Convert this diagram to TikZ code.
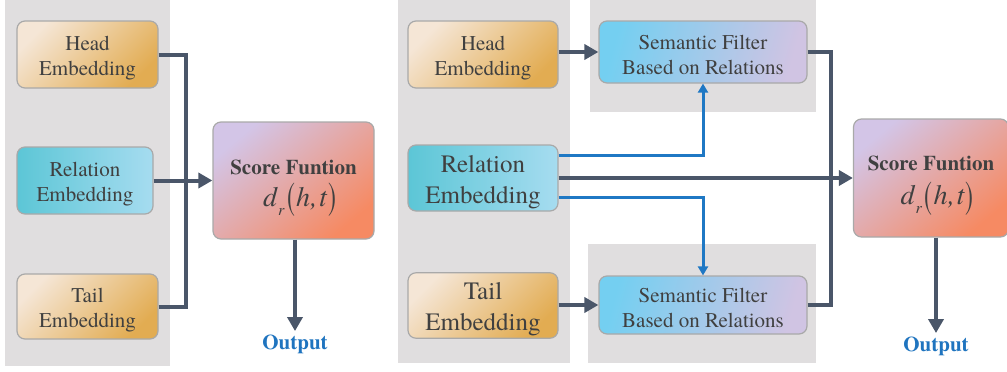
\documentclass[tikz,border=0pt]{standalone}
\usepackage{fontspec}
\usepackage{graphicx}
\setmainfont{texgyretermes}[Extension=.otf, UprightFont=*-regular, BoldFont=*-bold, ItalicFont=*-italic, BoldItalicFont=*-bolditalic]
\newfontfamily\timesfont{texgyretermes}[Extension=.otf, UprightFont=*-regular, BoldFont=*-bold, ItalicFont=*-italic, BoldItalicFont=*-bolditalic]
\usetikzlibrary{arrows.meta}

\definecolor{panel}{HTML}{E0DEDF}
\definecolor{edge}{HTML}{A9A9A9}
\definecolor{ink}{HTML}{404040}
\definecolor{dark}{HTML}{4A5669}
\definecolor{blueline}{HTML}{1F78C4}
\definecolor{creamA}{HTML}{F5E6D6}
\definecolor{creamB}{HTML}{E2AC52}
\definecolor{relA}{HTML}{5CC6D6}
\definecolor{relB}{HTML}{A6DCF0}
\definecolor{semA}{HTML}{74CFF1}
\definecolor{semB}{HTML}{D0C4E3}
\definecolor{scoA}{HTML}{D3C5E7}
\definecolor{scoB}{HTML}{F68A63}
\definecolor{outc}{HTML}{1F74BF}

% invisible strut that lowers a label inside its box
\newcommand{\lift}[1]{\rule{0pt}{#1}}
% d_r(h,t) set in the text font
\newcommand{\scorefn}{{\timesfont\fontsize{28}{30}\selectfont\itshape d\kern1pt\raisebox{-0.32em}{\fontsize{16}{16}\selectfont r}\kern3pt\raisebox{-0.14em}{\scalebox{0.85}[1.4]{\upshape(}}\kern1pt h\kern0.5pt,\kern1.5pt t\kern1pt\raisebox{-0.14em}{\scalebox{0.85}[1.4]{\upshape)}}}}

\tikzset{
  box/.style={draw=edge, line width=1.2pt, rounded corners=8pt, inner sep=2pt,
    align=center, text=ink, font=\timesfont\fontsize{21}{25}\selectfont},
  bigbox/.style={box, font=\timesfont\fontsize{25}{31}\selectfont},
  entbox/.style={shade, left color=creamA, right color=creamB, shading angle=45},
  relbox/.style={shade, left color=relA, right color=relB},
  sembox/.style={box, shade, left color=semA, right color=semB, shading angle=75},
  scorebox/.style={box, shade, left color=scoA, right color=scoB, shading angle=40},
  flow/.style={draw=dark, line width=4pt, -{Triangle[length=14pt,width=15pt]}},
  flowline/.style={draw=dark, line width=4pt},
  relflow/.style={draw=blueline, line width=3pt, -{Triangle[length=9pt,width=10pt]}},
  outlabel/.style={text=outc, font=\timesfont\fontsize{21}{25}\selectfont\bfseries},
}

\begin{document}
\begin{tikzpicture}[x=1pt, y=-1pt]
\useasboundingbox (0,0) rectangle (1007,372);

% grey panels
\fill[panel] (5,0) rectangle (170,366);
\fill[panel] (398,0) rectangle (570,363);
\fill[panel] (590,0) rectangle (816,112);
\fill[panel] (588,244) rectangle (816,363);

% first model
\node[box, entbox, minimum width=141pt, minimum height=67pt] (h1) at (87.5,54.5) {\lift{21pt}Head\\Embedding};
\node[box, relbox, minimum width=136pt, minimum height=67pt] (r1) at (85,180.5) {\lift{21pt}Relation\\Embedding};
\node[box, entbox, minimum width=141pt, minimum height=65pt] (t1) at (87.5,306.5) {\lift{21pt}Tail\\Embedding};
\node[scorebox, minimum width=161pt, minimum height=117pt] (s1) at (293.5,180.5)
  {\lift{30pt}\textbf{Score Funtion}\\[7pt]\kern12pt\scorefn};
\node[outlabel] (o1) at (295,344) {Output};
\coordinate (j1) at (186,180.5);

\draw[flowline] (h1.east) -| (j1);
\draw[flowline] (t1.east) -| (j1);
\draw[flow] (r1.east) -- (s1.west);
\draw[flow] (o1.north |- s1.south) -- (o1.north);

% second model
\node[box, entbox, minimum width=150pt, minimum height=67pt] (h2) at (483,54.5) {\lift{21pt}Head\\Embedding};
\node[bigbox, relbox, minimum width=150pt, minimum height=66pt] (r2) at (483,178) {\lift{25pt}Relation\\Embedding};
\node[bigbox, entbox, minimum width=150pt, minimum height=65pt] (t2) at (483,305.5) {\lift{25pt}Tail\\Embedding};
\node[sembox, minimum width=208pt, minimum height=62pt] (f1) at (703,52) {\lift{20pt}Semantic Filter\\Based on Relations};
\node[sembox, minimum width=208pt, minimum height=58pt] (f2) at (703,305) {\lift{20pt}Semantic Filter\\Based on Relations};
\node[scorebox, minimum width=155pt, minimum height=118pt] (s2) at (931,178)
  {\lift{30pt}\textbf{Score Funtion}\\[9pt]\kern12pt\scorefn};
\node[outlabel] (o2) at (936,346) {Output};
\coordinate (j2) at (831,178);

\draw[flow] (h2.east |- f1.west) -- (f1.west);
\draw[flow] (t2.east |- f2.west) -- (f2.west);
\draw[relflow] (r2.east |- {(0,155)}) -| (f1.south);
\draw[relflow] (r2.east |- {(0,197)}) -| (f2.north);
\draw[flowline] (f1.east) -| (j2);
\draw[flowline] (f2.east) -| (j2);
\draw[flow] (r2.east) -- (s2.west);
\draw[flow] (o2.north |- s2.south) -- (o2.north);
\end{tikzpicture}
\end{document}
